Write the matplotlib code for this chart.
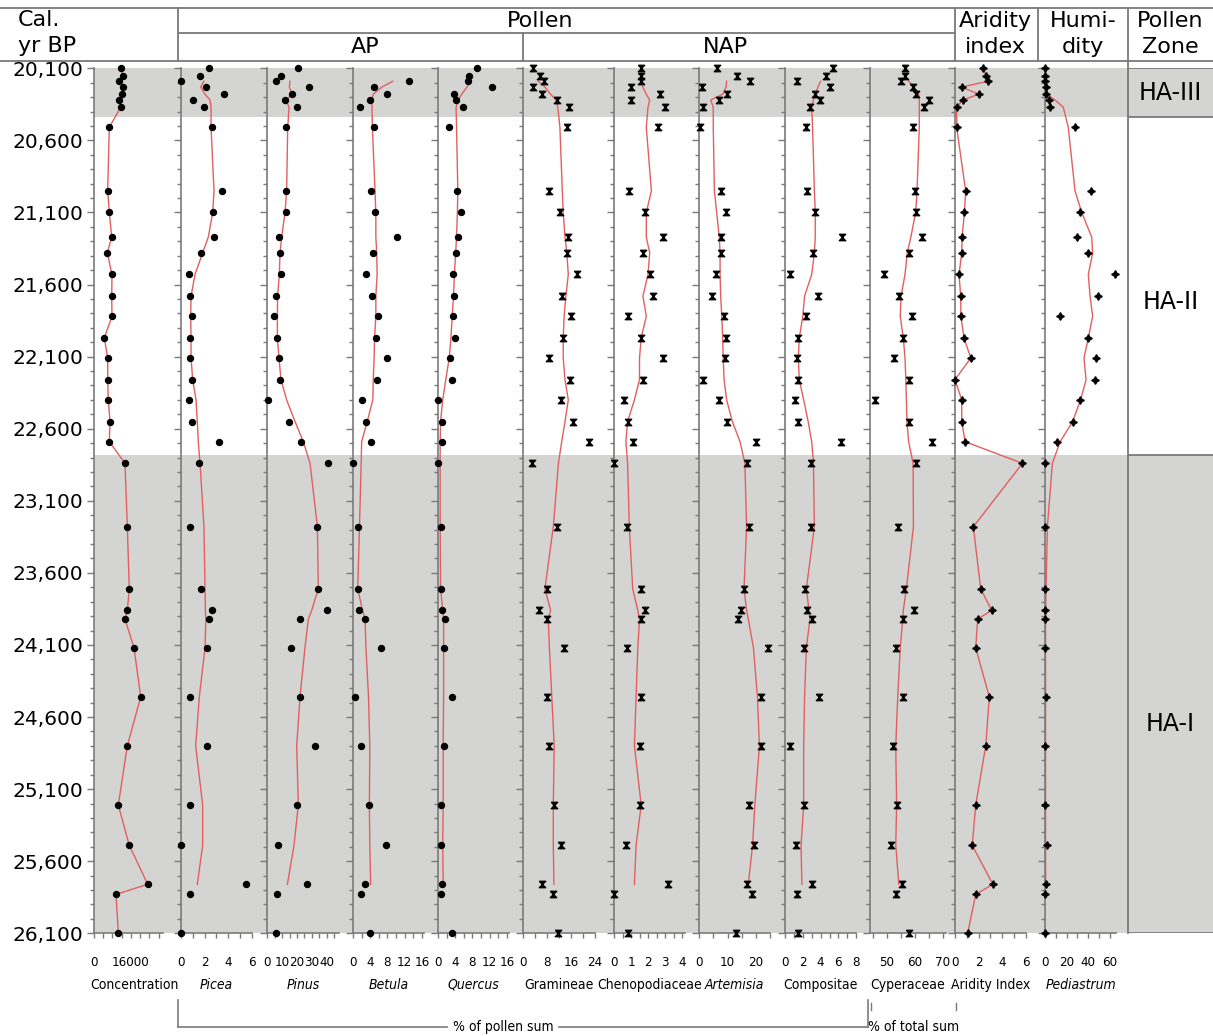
import numpy as np
import matplotlib.pyplot as plt
from matplotlib import font_manager
from matplotlib.lines import Line2D
from matplotlib.ticker import FixedLocator, FuncFormatter

# ---------------- data ----------------
ages = [20100, 20150, 20190, 20230, 20280, 20320, 20370,
        20510, 20950, 21100, 21270, 21380, 21530, 21680, 21820, 21970,
        22110, 22260, 22400, 22550, 22690,
        22840, 23280, 23710, 23860, 23920, 24120, 24460, 24800, 25210,
        25490, 25760, 25830, 26100]
smooth_ages = ages[2:32]

conc = [11560, 12420, 10950, 12420, 11990, 10950, 11560,
        6620, 5930, 6620, 7660, 5760, 7790, 7660, 7790, 4460, 5930, 5930, 6190, 6930, 6620,
        13420, 14420, 15280, 14420, 13420, 17320, 20220, 14420, 10520, 15280, 23250, 9520, 10520]

picea = [2.4, 1.6, 0.0, 2.1, 3.6, 1.05, 1.95,
         2.6, 3.5, 2.7, 2.8, 1.7, 0.7, 0.8, 0.9, 0.8, 0.75, 0.9, 0.7, 0.9, 3.25,
         1.5, 0.75, 1.65, 2.65, 2.4, 2.2, 0.8, 2.2, 0.75, 0.0, 5.5, 0.75, 0.0]
picea_smooth = [1.94, 1.66, 2.03, 2.45, 2.54,
                2.54, 2.79, 2.68, 2.31, 1.83, 1.18, 0.85, 0.82, 0.85, 0.85, 0.99, 1.27, 1.38, 1.46,
                1.61, 1.94, 2.03, 2.06, 2.1, 2.03, 1.55, 1.24, 1.83, 1.83, 1.38]

pinus = [20.4, 9.3, 6.0, 28.0, 16.9, 12.0, 19.8,
         12.4, 12.7, 12.4, 8.0, 8.7, 9.3, 6.0, 4.9, 6.4, 8.2, 8.7, 0.4, 14.7, 22.7,
         40.9, 33.1, 34.2, 40.2, 22.0, 16.0, 22.0, 32.0, 20.2, 7.6, 26.4, 6.9, 6.0]
pinus_smooth = [15.3, 14.9, 16.9, 12.7, 14.7,
                13.8, 13.1, 12.0, 9.8, 8.7, 8.2, 7.1, 6.9, 6.9, 8.0, 9.3, 13.1, 18.7, 24.2,
                28.7, 33.6, 34.2, 29.8, 27.6, 25.3, 22.0, 19.8, 20.9, 18.0, 13.6]

betula = [np.nan, np.nan, 13.0, 4.9, 7.8, 3.9, 1.6,
          4.9, 4.2, 5.1, 10.3, 4.7, 3.0, 4.3, 5.7, 5.3, 7.8, 5.6, 2.2, 3.0, 4.1,
          0.0, 1.2, 1.2, 1.5, 2.9, 6.5, 0.5, 1.9, 3.6, 7.6, 2.9, 1.9, 3.9]
betula_smooth = [9.2, 6.7, 4.7, 4.4, 4.4,
                 4.5, 5.1, 5.3, 5.3, 5.5, 5.6, 5.3, 5.3, 5.0, 4.9, 4.7, 4.6, 3.3, 2.0,
                 1.9, 1.5, 1.1, 2.2, 2.8, 3.0, 3.6, 3.9, 3.8, 3.9, 4.1]

quercus = [9.0, 7.3, 7.0, 12.6, 3.6, 4.1, 5.9,
           2.6, 4.5, 5.3, 4.7, 4.2, 3.4, 3.8, 3.4, 3.9, 2.8, 3.3, 0.0, 0.9, 1.0,
           0.0, 0.7, 0.7, 0.9, 1.6, 1.4, 3.2, 1.4, 0.7, 0.6, 0.9, 0.7, 3.3]
quercus_smooth = [7.6, 6.7, 5.5, 4.7, 4.2,
                  4.3, 4.6, 4.5, 4.3, 4.1, 3.8, 3.6, 3.3, 3.0, 2.6, 1.8, 1.1, 0.6, 0.5,
                  0.5, 0.5, 0.6, 1.1, 1.3, 1.3, 1.3, 1.2, 1.2, 1.1, 1.2]

gramineae = [3.2, 5.7, 7.0, 3.2, 6.2, 11.2, 15.4,
             14.6, 8.8, 12.3, 14.9, 14.8, 17.9, 12.9, 16.0, 13.2, 8.7, 15.7, 12.6, 16.6, 22.1,
             3.1, 11.2, 7.9, 5.3, 7.9, 13.8, 7.9, 8.7, 10.3, 12.7, 6.2, 10.1, 11.8]
gramineae_smooth = [5.1, 7.3, 9.2, 11.0, 11.6,
                    12.3, 13.1, 13.4, 14.0, 14.6, 15.1, 14.3, 13.7, 13.4, 13.4, 14.0, 15.1, 14.0, 12.9,
                    11.8, 10.1, 7.3, 9.2, 8.4, 8.8, 9.6, 10.4, 10.1, 10.1, 10.3]

cheno = [1.6, 1.6, 1.6, 1.0, 2.7, 1.0, 3.0,
         2.6, 0.9, 1.8, 2.9, 1.7, 2.1, 2.3, 0.8, 1.6, 2.9, 1.7, 0.6, 0.8, 1.1,
         0.0, 0.75, 1.6, 1.8, 1.6, 0.75, 1.6, 1.5, 1.5, 0.7, 3.2, 0.0, 0.85]
cheno_smooth = [1.6, 1.7, 1.9, 2.1, 2.0,
                1.9, 2.2, 1.9, 1.9, 2.1, 2.0, 1.7, 1.9, 1.6, 1.5, 1.5, 1.2, 0.8, 0.7,
                0.8, 0.9, 1.1, 1.4, 1.5, 1.4, 1.3, 1.2, 1.6, 1.3, 1.2]

artemisia = [6.2, 13.2, 17.9, 0.9, 9.7, 7.1, 1.3,
             0.4, 7.6, 9.4, 7.6, 7.7, 6.0, 4.7, 8.8, 9.5, 9.1, 1.3, 7.1, 9.7, 19.9,
             16.7, 17.6, 15.8, 14.6, 13.8, 24.3, 21.6, 21.6, 17.5, 19.3, 17.0, 18.7, 12.9]
artemisia_smooth = [9.7, 9.5, 8.3, 4.1, 5.0,
                    5.0, 5.4, 6.2, 7.1, 7.4, 7.4, 7.6, 8.0, 8.3, 8.5, 8.8, 9.7, 11.7, 14.4,
                    16.1, 16.7, 15.8, 16.7, 17.3, 19.1, 20.5, 21.2, 19.6, 18.8, 17.3]

compositae = [5.4, 4.6, 1.4, 5.0, 3.4, 3.9, 2.8,
              2.4, 2.5, 3.4, 6.4, 3.2, 0.6, 3.7, 2.4, 1.5, 1.3, 1.5, 1.1, 1.5, 6.3,
              2.9, 2.9, 2.2, 2.5, 3.0, 2.1, 3.8, 0.6, 2.1, 1.2, 3.0, 1.3, 1.5]
compositae_smooth = [4.0, 3.7, 3.4, 3.2, 3.0,
                     3.1, 3.3, 3.4, 3.4, 3.3, 3.0, 2.2, 2.0, 1.6, 1.5, 1.6, 2.1, 2.6, 3.0,
                     3.2, 3.3, 2.4, 2.7, 2.8, 2.4, 2.2, 2.1, 2.1, 1.8, 1.9]

cyperaceae = [56.5, 56.5, 55.0, 59.5, 60.6, 65.0, 63.2,
              59.4, 60.1, 60.3, 62.5, 57.8, 49.0, 54.3, 59.0, 55.9, 52.4, 57.9, 45.7, 58.1, 66.3,
              60.6, 54.0, 56.1, 59.7, 55.9, 53.2, 55.9, 52.1, 53.7, 51.5, 55.6, 53.2, 58.1]
cyperaceae_smooth = [57.8, 59.7, 61.4, 61.6, 61.6,
                     61.6, 60.8, 60.3, 58.6, 57.3, 56.5, 55.1, 54.8, 55.9, 56.5, 56.8, 57.0, 57.2, 57.8,
                     59.4, 59.5, 57.0, 55.9, 55.7, 54.8, 53.9, 53.2, 53.5, 53.2, 54.3]

aridity = [2.4, 2.6, 2.8, 0.57, 2.0, 0.65, 0.14,
           0.14, 0.9, 0.8, 0.6, 0.57, 0.34, 0.48, 0.5, 0.76, 1.33, 0.0, 0.57, 0.57, 0.85,
           5.7, 1.55, 2.17, 3.1, 1.92, 1.75, 2.9, 2.6, 1.75, 1.46, 3.2, 1.75, 1.07]

pediastrum = [0, 0, 0, 0.6, 0.9, 3.7, 4.6,
              27.7, 42.5, 32.3, 29.9, 40.0, 64.6, 48.6, 13.8, 40.0, 47.1, 46.2, 32.3, 25.5, 11.4,
              0, 0, 0, 0, 0, 0, 0.9, 0, 0, 1.5, 0.6, 0, 0.3]
pediastrum_smooth = [0.5, 0.8, 1.5, 9.2, 16.9,
                     21.5, 27.7, 33.9, 43.1, 44.0, 40.0, 41.6, 44.0, 40.0, 36.0, 37.9, 32.9, 25.5, 14.0,
                     6.8, 2.2, 1.0, 0.6, 0.5, 0.5, 0.5, 0.5, 0.5, 0.5, 0.6]

zone_bounds = [20100, 20440, 22780, 26100]
zone_names = ['HA-III', 'HA-II', 'HA-I']
zone_label_ages = [20270, 21720, 24650]
zone_shaded = [True, False, True]

age_ticks = list(range(20100, 26101, 500))

# ---------------- layout / style ----------------
W, H = 1213, 1036
TOP, BOT = 68.3, 933.3          # pixel rows of 20,100 and 26,100
SHADE = '#d4d4d2'
LINE = '#7a7a7a'
RED = '#e25f5f'

plt.rcParams['font.family'] = ['DejaVu Sans']

# a narrow face for the axis labels if one is installed
narrow_faces = [f for f in font_manager.fontManager.ttflist
                if f.style == 'normal' and f.weight in (400, 'normal', 'regular')
                and ('Narrow' in f.name or 'Condensed' in f.name
                     or str(f.stretch) in ('condensed', 'semi-condensed'))]
if narrow_faces:
    nf = narrow_faces[0]
    NARROW = dict(family=nf.name, stretch=nf.stretch, size=10)
    TICKSIZE = 9.5
else:
    NARROW = dict(family='DejaVu Sans', size=9.5)
    TICKSIZE = 9

HOUR = [(-1, 1), (1, 1), (-1, -1), (1, -1), (-1, 1)]
MARKERS = {'dot': dict(marker='o', ms=4.3),
           'hour': dict(marker=HOUR, ms=4.6),
           'star': dict(marker=(4, 1, 0), ms=5.5)}

# name, italic, values, smooth curve, marker, left px, xmin, xmax, px per unit, tick step, labelled ticks
panels = [
    ('Concentration', False, conc, 'line', 'dot', 94, 0, 30000, 0.00231, 4000, [0, 16000]),
    ('Picea', True, picea, picea_smooth, 'dot', 181, 0, 6, 11.83, 1, [0, 2, 4, 6]),
    ('Pinus', True, pinus, pinus_smooth, 'dot', 267, 0, 48, 1.5, 5, [0, 10, 20, 30, 40]),
    ('Betula', True, betula, betula_smooth, 'dot', 353, 0, 16.5, 4.31, 2, [0, 4, 8, 12, 16]),
    ('Quercus', True, quercus, quercus_smooth, 'dot', 438, 0, 16.5, 4.31, 2, [0, 4, 8, 12, 16]),
    ('Gramineae', False, gramineae, gramineae_smooth, 'hour', 523, 0, 24, 3.0, 4, [0, 8, 16, 24]),
    ('Chenopodiaceae', False, cheno, cheno_smooth, 'hour', 614, 0, 4.2, 17.0, 0.5, [0, 1, 2, 3, 4]),
    ('Artemisia', True, artemisia, artemisia_smooth, 'hour', 699, 0, 25, 2.85, 5, [0, 10, 20]),
    ('Compositae', False, compositae, compositae_smooth, 'hour', 785, 0, 8, 8.9, 1, [0, 2, 4, 6, 8]),
    ('Cyperaceae', False, cyperaceae, cyperaceae_smooth, 'hour', 870, 44.0, 71.0, 2.8, 5, [50, 60, 70]),
    ('Aridity Index', False, aridity, 'line', 'star', 955, 0, 6, 11.83, 1, [0, 2, 4, 6]),
    ('Pediastrum', True, pediastrum, pediastrum_smooth, 'star', 1045, 0, 66, 1.083, 10, [0, 20, 40, 60]),
]

fig = plt.figure(figsize=(W / 100, H / 100), dpi=100)


def rect(x0, x1):
    return [x0 / W, 1 - BOT / H, (x1 - x0) / W, (BOT - TOP) / H]


def hl(x0, x1, y, lw=1.3):
    fig.add_artist(Line2D([x0 / W, x1 / W], [1 - y / H, 1 - y / H], color=LINE, lw=lw))


def vl(x, y0, y1, lw=1.3):
    fig.add_artist(Line2D([x / W, x / W], [1 - y0 / H, 1 - y1 / H], color=LINE, lw=lw))


# zone shading behind all panels
bg = fig.add_axes(rect(94, 1128), zorder=0)
bg.set_axis_off()
bg.set_ylim(26100, 20100)
for a0, a1, sh in zip(zone_bounds[:-1], zone_bounds[1:], zone_shaded):
    if sh:
        bg.axhspan(a0, a1, color=SHADE, lw=0)

for i, (name, italic, vals, smooth, mk, x0, lo, hi, ppu, step, labelled) in enumerate(panels):
    w = (hi - lo) * ppu
    ax = fig.add_axes(rect(x0, x0 + w), zorder=1)
    ax.patch.set_visible(False)
    ax.set_xlim(lo, hi)
    ax.set_ylim(26100, 20100)
    for s in ('top', 'right'):
        ax.spines[s].set_visible(False)
    for s in ('left', 'bottom'):
        ax.spines[s].set_color(LINE)
        ax.spines[s].set_linewidth(1.2)

    if isinstance(smooth, str):
        ax.plot(vals, ages, color=RED, lw=1.0, zorder=2)
    else:
        ax.plot(smooth, smooth_ages, color=RED, lw=1.0, zorder=2)
    ax.plot(vals, ages, ls='none', color='black', zorder=3, clip_on=False, **MARKERS[mk])

    # age axis
    ax.yaxis.set_major_locator(FixedLocator(age_ticks))
    ax.yaxis.set_minor_locator(FixedLocator(list(range(20100, 26101, 100))))
    ax.tick_params(axis='y', which='major', length=5, width=1, color=LINE, direction='out', pad=3)
    ax.tick_params(axis='y', which='minor', length=3, width=1, color=LINE, direction='out')
    if i == 0:
        ax.set_yticklabels([f'{a:,}' for a in age_ticks], fontsize=14.5)
    else:
        ax.tick_params(axis='y', labelleft=False)

    # value axis
    first = np.ceil(lo / step - 1e-9) * step
    xt = [round(v, 6) + 0.0 for v in np.arange(first, hi + 1e-9, step)]
    ax.xaxis.set_major_locator(FixedLocator(xt))
    ax.xaxis.set_major_formatter(FuncFormatter(
        lambda v, p, lab=labelled: f'{v + 0.0:g}' if any(abs(v - l) < 1e-6 for l in lab) else ''))
    ax.tick_params(axis='x', length=3.5, width=1, color=LINE, direction='out', pad=13)
    tick_fp = dict(NARROW)
    tick_fp['size'] = TICKSIZE
    for t in ax.get_xticklabels():
        t.set_fontproperties(font_manager.FontProperties(**tick_fp))
    name_x = x0 + w / 2 + (6 if i == 0 else 0)
    fig.text(name_x / W, 1 - 985 / H, name, ha='center', va='center',
             style='italic' if italic else 'normal', **NARROW)

# pollen zone column
zc = fig.add_axes([1128 / W, 1 - BOT / H, (W - 1128) / W, (BOT - TOP) / H], zorder=1)
zc.set_axis_off()
zc.set_xlim(0, 1)
zc.set_ylim(26100, 20100)
for a0, a1, sh in zip(zone_bounds[:-1], zone_bounds[1:], zone_shaded):
    if sh:
        zc.axhspan(a0, a1, color=SHADE, lw=0)
zc.hlines(zone_bounds, 0, 1, color=LINE, lw=1.3)
for nm, a in zip(zone_names, zone_label_ages):
    zc.text(0.5, a, nm, ha='center', va='center', fontsize=17)

# header grid
hl(0, W, 8)
hl(178, 955, 33)
hl(0, W, 61)
vl(178, 8, 61)
vl(523, 33, 61)
vl(955, 8, 61)
vl(1038, 8, 61)
vl(1128, 8, BOT)

HDR = dict(fontsize=16, va='center')
fig.text(18 / W, 1 - 20 / H, 'Cal.', ha='left', **HDR)
fig.text(18 / W, 1 - 46 / H, 'yr BP', ha='left', **HDR)
fig.text(540 / W, 1 - 21 / H, 'Pollen', ha='center', **HDR)
fig.text(365 / W, 1 - 47 / H, 'AP', ha='center', **HDR)
fig.text(725 / W, 1 - 47 / H, 'NAP', ha='center', **HDR)
fig.text(995 / W, 1 - 21 / H, 'Aridity', ha='center', **HDR)
fig.text(995 / W, 1 - 47 / H, 'index', ha='center', **HDR)
fig.text(1083 / W, 1 - 21 / H, 'Humi-', ha='center', **HDR)
fig.text(1083 / W, 1 - 47 / H, 'dity', ha='center', **HDR)
fig.text(1170 / W, 1 - 21 / H, 'Pollen', ha='center', **HDR)
fig.text(1170 / W, 1 - 47 / H, 'Zone', ha='center', **HDR)

# brackets under the axes
vl(178, 1000, 1027, lw=1.2)
hl(178, 447, 1027, lw=1.2)
hl(559, 868, 1027, lw=1.2)
vl(868, 1000, 1027, lw=1.2)
fig.text(503 / W, 1 - 1027 / H, '% of pollen sum', ha='center', va='center', **NARROW)
vl(871, 1003, 1010, lw=1.0)
vl(956, 1003, 1010, lw=1.0)
fig.text(868 / W, 1 - 1027 / H, '% of total sum', ha='left', va='center', **NARROW)

fig.savefig('out.png', dpi=100)
